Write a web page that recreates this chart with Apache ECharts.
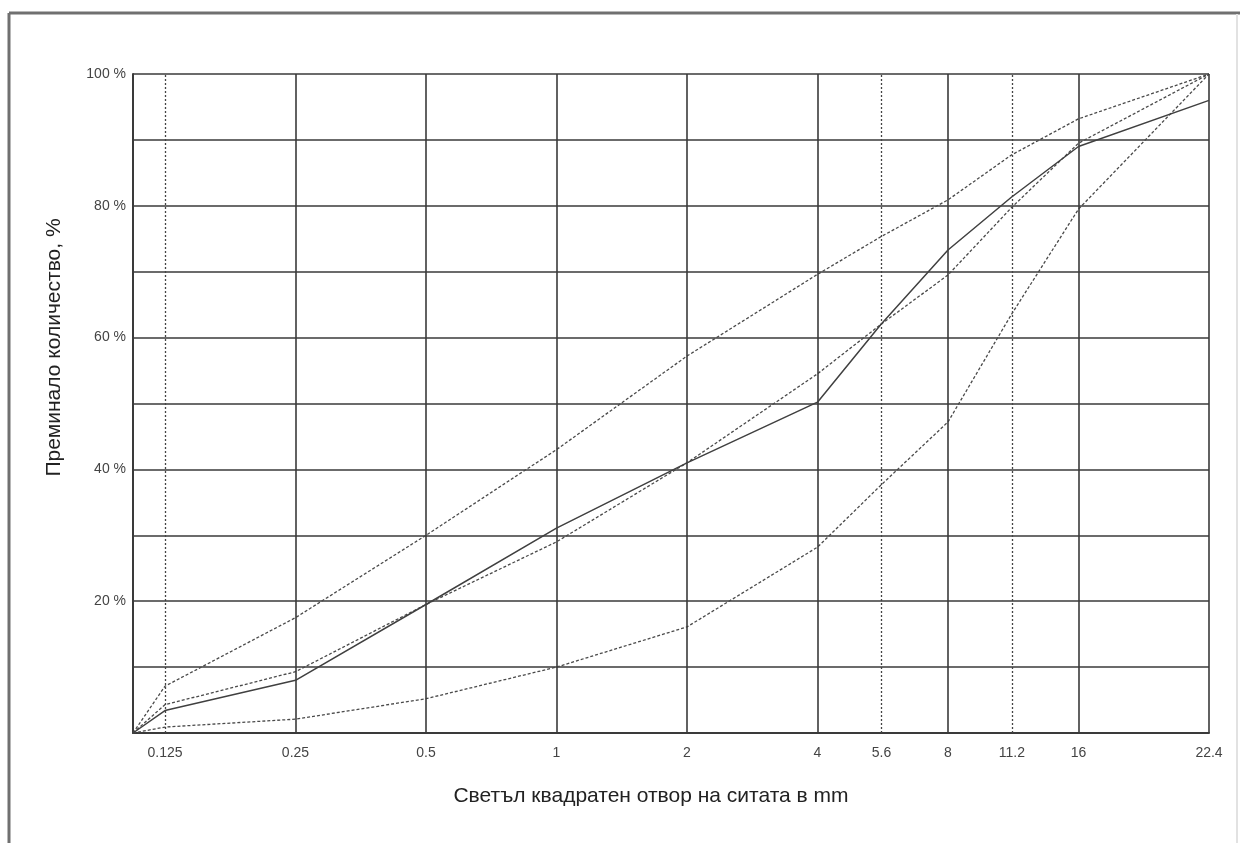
<!DOCTYPE html>
<html>
<head>
<meta charset="utf-8">
<script src="https://cdn.jsdelivr.net/npm/echarts@6/dist/echarts.min.js"></script>
<style>
html,body{margin:0;padding:0;background:#fff;}
#chart{width:1241px;height:843px;}
</style>
</head>
<body>
<div id="chart"></div>
<script>
// Sieve sizes in mm (0 = origin of the curves at the left edge)
const sieves = [0, 0.125, 0.25, 0.5, 1, 2, 4, 5.6, 8, 11.2, 16, 22.4];
const sieveLabels = ['', '0.125', '0.25', '0.5', '1', '2', '4', '5.6', '8', '11.2', '16', '22.4'];
// Secondary (dashed) grid sieves
const dashedSieves = [0.125, 5.6, 11.2];

// Passing percentages
const gradingActual = [0, 3.4, 8.0, 19.5, 31.1, 41, 50.2, 62, 73.3, 81.3, 89, 96];
const limitUpper    = [0, 7.1, 17.5, 30, 43, 57.2, 69.6, 75.3, 80.9, 87.7, 93.2, 100];
const limitMiddle   = [0, 4.3, 9.3, 19.5, 29, 41, 54.5, 62, 69.5, 79.7, 89.5, 100];
const limitLower    = [0, 0.9, 2.1, 5.2, 10, 16.1, 28.2, 37.6, 47.2, 63.5, 79.5, 100];

const yTickLabels = [20, 40, 60, 80, 100];

// Axis position of a sieve: one column per doubling, the last column ends at 22.4
const X_MIN = -0.245;
function pos(d) {
  if (d === 0) return X_MIN;
  if (d === 22.4) return 8;
  return Math.log2(d / 0.125);
}
function pairs(vals) { return sieves.map((d, i) => [pos(d), vals[i]]); }

const fontFam = '"Liberation Sans", Arial, sans-serif';

const vLines = sieves.filter(d => d > 0).map(d => {
  const dashed = dashedSieves.indexOf(d) >= 0;
  return {
    xAxis: pos(d),
    lineStyle: dashed ? {type: [2, 2], color: '#444', width: 1.3} : {type: 'solid', color: '#3a3a3a', width: 1.6},
    label: {
      show: true, position: 'start', distance: 13,
      formatter: sieveLabels[sieves.indexOf(d)],
      color: '#444', fontSize: 14, fontFamily: fontFam
    }
  };
});

const dashStyle = {type: [3, 2], color: '#4a4a4a', width: 1.3};

const chart = echarts.init(document.getElementById('chart'));
chart.setOption({
  animation: false,
  backgroundColor: '#fff',
  graphic: [
    {type: 'line', shape: {x1: 9, y1: 13, x2: 1240, y2: 13}, style: {stroke: '#707070', lineWidth: 3}},
    {type: 'line', shape: {x1: 9, y1: 13, x2: 9, y2: 843}, style: {stroke: '#707070', lineWidth: 3}},
    {type: 'line', shape: {x1: 1237, y1: 14, x2: 1237, y2: 843}, style: {stroke: '#e2e2e2', lineWidth: 2}}
  ],
  grid: {left: 133, right: 32, top: 74, bottom: 110},
  xAxis: {
    type: 'value', min: X_MIN, max: 8,
    name: 'Светъл квадратен отвор на ситата в mm',
    nameLocation: 'middle', nameGap: 53,
    nameTextStyle: {fontSize: 21, color: '#222', fontFamily: fontFam, padding: [0, 40, 0, 0]},
    axisLine: {show: true, onZero: false, lineStyle: {color: '#3a3a3a', width: 2}},
    axisTick: {show: false}, axisLabel: {show: false}, splitLine: {show: false}
  },
  yAxis: {
    type: 'value', min: 0, max: 100, interval: 10,
    name: 'Преминало количество, %',
    nameLocation: 'middle', nameGap: 68, nameRotate: 90,
    nameTextStyle: {fontSize: 21, color: '#222', fontFamily: fontFam, padding: [0, 0, 0, 112]},
    axisLine: {show: true, onZero: false, lineStyle: {color: '#3a3a3a', width: 2}},
    axisTick: {show: false},
    axisLabel: {
      margin: 7, color: '#444', fontSize: 14, fontFamily: fontFam, padding: [12, 0, 0, 0],
      formatter: v => yTickLabels.indexOf(v) >= 0 ? v + ' %' : ''
    },
    splitLine: {show: true, lineStyle: {color: '#3a3a3a', width: 1.6}}
  },
  series: [
    {
      type: 'line', name: 'grid', data: [[X_MIN, 0]], symbol: 'none', silent: true,
      lineStyle: {width: 0}, z: 1,
      markLine: {silent: true, symbol: 'none', animation: false, data: vLines}
    },
    {type: 'line', name: 'actual', data: pairs(gradingActual), symbol: 'none', z: 5,
     lineStyle: {type: 'solid', color: '#404040', width: 1.5}},
    {type: 'line', name: 'upper', data: pairs(limitUpper), symbol: 'none', z: 4, lineStyle: dashStyle},
    {type: 'line', name: 'middle', data: pairs(limitMiddle), symbol: 'none', z: 4, lineStyle: dashStyle},
    {type: 'line', name: 'lower', data: pairs(limitLower), symbol: 'none', z: 4, lineStyle: dashStyle}
  ]
});
</script>
</body>
</html>
